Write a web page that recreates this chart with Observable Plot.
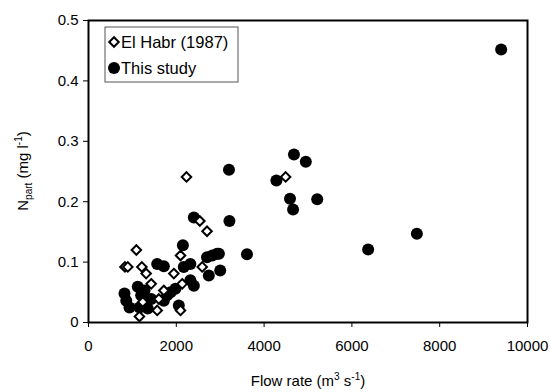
<!DOCTYPE html>
<html>
<head>
<meta charset="utf-8">
<script src="https://cdn.jsdelivr.net/npm/d3@7"></script>
<script src="https://cdn.jsdelivr.net/npm/@observablehq/plot@0.6"></script>
<style>
  html, body { margin: 0; padding: 0; background: white; }
  svg { display: block; }
</style>
</head>
<body>
<div id="chart"></div>
<script>
// El Habr (1987) — open diamonds
const habrFlow = [830, 895, 1090, 1215, 1313, 1428, 1160, 1237, 2096, 1944, 2590, 2134, 1716, 1602, 1565, 2096, 2232, 2536, 2700, 4490];
const habrN    = [0.092, 0.092, 0.12, 0.092, 0.081, 0.064, 0.01, 0.034, 0.111, 0.081, 0.092, 0.064, 0.053, 0.039, 0.02, 0.02, 0.241, 0.168, 0.151, 0.241];

// This study — filled circles
const studyFlow = [9400, 4680, 4950, 4280, 4590, 5210, 4660, 6370, 7480, 3200, 3210, 2400, 3610, 2150, 2820, 2970, 2930, 2700, 3000, 2740,
                   2320, 2170, 1565, 1716, 2320, 2400, 1980, 1870, 1790, 1716, 2057, 820, 860, 934, 1122, 1200, 1276, 1162, 1350, 1428];
const studyN    = [0.452, 0.278, 0.266, 0.235, 0.205, 0.204, 0.187, 0.121, 0.147, 0.253, 0.168, 0.174, 0.113, 0.128, 0.111, 0.114, 0.114, 0.108, 0.086, 0.078,
                   0.097, 0.092, 0.097, 0.093, 0.07, 0.061, 0.056, 0.05, 0.045, 0.036, 0.028, 0.048, 0.036, 0.025, 0.059, 0.045, 0.053, 0.025, 0.023, 0.039];

const xTicks = [0, 2000, 4000, 6000, 8000, 10000];
const yTicks = [0, 0.1, 0.2, 0.3, 0.4, 0.5];
const legendLabels = ["El Habr (1987)", "This study"];

const habr = habrFlow.map((f, i) => ({flow: f, n: habrN[i]}));
const study = studyFlow.map((f, i) => ({flow: f, n: studyN[i]}));

const font = "'Liberation Sans', Arial, sans-serif";

const chart = Plot.plot({
  width: 550,
  height: 392,
  marginLeft: 88,
  marginRight: 23,
  marginTop: 20,
  marginBottom: 70,
  style: {fontFamily: font, fontSize: "15px", color: "black", background: "white", overflow: "visible"},
  x: {domain: [0, 10000], ticks: xTicks, tickFormat: d => String(d), tickSize: 5, tickPadding: 13, label: null},
  y: {domain: [0, 0.5], ticks: yTicks, tickFormat: d => d === 0 ? "0" : d.toFixed(1), tickSize: 5, tickPadding: 5, label: null},
  marks: [
    Plot.dot(study, {x: "flow", y: "n", r: 6, fill: "black"}),
    Plot.dot(habr, {x: "flow", y: "n", symbol: "diamond2", r: 4.3, stroke: "black", strokeWidth: 2, fill: "white"}),
    Plot.frame({stroke: "black", strokeWidth: 2})
  ]
});
document.getElementById("chart").appendChild(chart);

const svg = d3.select(chart);

// X axis title with superscripts
const xt = svg.append("text")
  .attr("x", 308).attr("y", 386)
  .attr("text-anchor", "middle")
  .style("font-family", font).style("font-size", "15px").attr("fill", "black");
xt.append("tspan").text("Flow rate (m");
xt.append("tspan").attr("dy", -6).style("font-size", "10px").text("3");
xt.append("tspan").attr("dy", 6).text(" s");
xt.append("tspan").attr("dy", -6).style("font-size", "10px").text("-1");
xt.append("tspan").attr("dy", 6).text(")");

// Y axis title with subscript/superscript
const yt = svg.append("text")
  .attr("transform", "translate(28,171) rotate(-90)")
  .attr("text-anchor", "middle")
  .style("font-family", font).style("font-size", "15px").attr("fill", "black");
yt.append("tspan").text("N");
yt.append("tspan").attr("dy", 4).style("font-size", "10px").text("part");
yt.append("tspan").attr("dy", -4).text(" (mg l");
yt.append("tspan").attr("dy", -6).style("font-size", "10px").text("-1");
yt.append("tspan").attr("dy", 6).text(")");

// Legend box
const lg = svg.append("g");
lg.append("rect").attr("x", 105).attr("y", 27).attr("width", 133).attr("height", 55)
  .attr("fill", "white").attr("stroke", "#555").attr("stroke-width", 1);
lg.append("path")
  .attr("d", d3.symbol(d3.symbolDiamond2, Math.PI * 4.3 * 4.3)())
  .attr("transform", "translate(114,42)")
  .attr("fill", "white").attr("stroke", "black").attr("stroke-width", 2);
lg.append("circle").attr("cx", 114).attr("cy", 68).attr("r", 6).attr("fill", "black");
legendLabels.forEach((t, i) => {
  lg.append("text").attr("x", 121).attr("y", 42 + i * 26).attr("dy", "0.35em")
    .attr("text-anchor", "start")
    .style("font-family", font).style("font-size", "16.5px").attr("fill", "black").text(t);
});
</script>
</body>
</html>
